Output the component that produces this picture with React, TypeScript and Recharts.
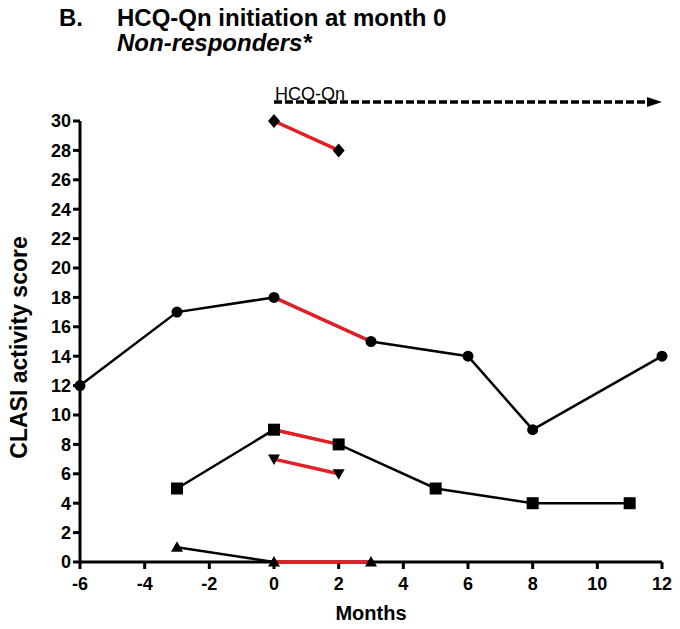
import React from 'react';
import { ComposedChart, Line, Scatter, XAxis, YAxis, ReferenceLine, Label } from 'recharts';

// ---- Data ----
const xTicks = [-6, -4, -2, 0, 2, 4, 6, 8, 10, 12];
const yTicks = [0, 2, 4, 6, 8, 10, 12, 14, 16, 18, 20, 22, 24, 26, 28, 30];

const circleMonths = [-6, -3, 0, 3, 6, 8, 12];
const circleScores = [12, 17, 18, 15, 14, 9, 14];
const circleRedEnd = 3;

const squareMonths = [-3, 0, 2, 5, 8, 11];
const squareScores = [5, 9, 8, 5, 4, 4];
const squareRedEnd = 2;

const diamondMonths = [0, 2];
const diamondScores = [30, 28];
const diamondRedEnd = 2;

const downTriMonths = [0, 2];
const downTriScores = [7, 6];
const downTriRedEnd = 2;

const upTriMonths = [-3, 0, 3];
const upTriScores = [1, 0, 0];
const upTriRedEnd = 3;

const treatmentStart = 0;
const treatmentEnd = 12;
const arrowLevel = 31.3;
const treatmentLabel = 'HCQ-Qn';

// ---- helpers ----
const toPoints = (months: number[], scores: number[]) =>
  months.map((x, i) => ({ x, y: scores[i] }));
const redPart = (months: number[], scores: number[], end: number) =>
  toPoints(months, scores).filter((p) => p.x >= treatmentStart && p.x <= end);

const circleData = toPoints(circleMonths, circleScores);
const squareData = toPoints(squareMonths, squareScores);
const diamondData = toPoints(diamondMonths, diamondScores);
const downTriData = toPoints(downTriMonths, downTriScores);
const upTriData = toPoints(upTriMonths, upTriScores);

const circleRed = redPart(circleMonths, circleScores, circleRedEnd);
const squareRed = redPart(squareMonths, squareScores, squareRedEnd);
const diamondRed = redPart(diamondMonths, diamondScores, diamondRedEnd);
const downTriRed = redPart(downTriMonths, downTriScores, downTriRedEnd);
const upTriRed = redPart(upTriMonths, upTriScores, upTriRedEnd);

const FONT = '"Liberation Sans", Arial, Helvetica, sans-serif';
const RED = '#e31e24';

type Shape = 'circle' | 'square' | 'diamond' | 'up' | 'down';
const makeShape = (shape: Shape) => (props: any) => {
  const { cx, cy } = props;
  if (cx == null || cy == null) return <g />;
  switch (shape) {
    case 'circle':
      return <circle cx={cx} cy={cy} r={5.5} fill="#000" />;
    case 'square':
      return <rect x={cx - 6} y={cy - 6} width={12} height={12} fill="#000" />;
    case 'diamond':
      return <path d={`M${cx},${cy - 7}L${cx + 6},${cy}L${cx},${cy + 7}L${cx - 6},${cy}Z`} fill="#000" />;
    case 'up':
      return <path d={`M${cx},${cy - 6}L${cx + 6},${cy + 4.5}L${cx - 6},${cy + 4.5}Z`} fill="#000" />;
    case 'down':
    default:
      return <path d={`M${cx},${cy + 6}L${cx + 6},${cy - 4.5}L${cx - 6},${cy - 4.5}Z`} fill="#000" />;
  }
};

const ArrowShape = (props: any) => {
  const { x1, y1, x2, y2 } = props;
  if ([x1, y1, x2, y2].some((v) => v == null || isNaN(v))) return <g />;
  return (
    <g>
      <text x={x1 + 1} y={y1 - 2} fontFamily={FONT} fontSize={18} fill="#000">
        {treatmentLabel}
      </text>
      <line x1={x1} y1={y1} x2={x2 - 12} y2={y2} stroke="#000" strokeWidth={3.5} strokeDasharray="8 3" />
      <path d={`M${x2},${y2}L${x2 - 15},${y2 - 5}L${x2 - 15},${y2 + 5}Z`} fill="#000" />
    </g>
  );
};

const YLabel = (props: any) => {
  const vb = props.viewBox || { x: 20, y: 121, width: 60, height: 441 };
  const x = vb.x - 1.5;
  const y = vb.y + vb.height / 2 + 6;
  return (
    <text
      x={x}
      y={y}
      transform={`rotate(-90 ${x} ${y})`}
      textAnchor="middle"
      dominantBaseline="central"
      fontFamily={FONT}
      fontWeight="bold"
      fontSize={23}
      fill="#000"
    >
      CLASI activity score
    </text>
  );
};

const tickStyle = { fill: '#000', fontSize: 18, fontWeight: 'bold', fontFamily: FONT } as any;
const axisLineStyle = { stroke: '#000', strokeWidth: 3 };

const lineCommon = {
  dataKey: 'y',
  type: 'linear' as const,
  activeDot: false,
  isAnimationActive: false,
  legendType: 'none' as const,
};

const scatterCommon = {
  dataKey: 'y',
  isAnimationActive: false,
  legendType: 'none' as const,
  zIndex: 800,
};

export default function App() {
  return (
    <div style={{ position: 'absolute', left: 0, top: 0, width: 680, height: 629, background: '#fff' }}>
      <div
        style={{
          position: 'absolute',
          left: 59,
          top: 5,
          fontFamily: FONT,
          fontWeight: 'bold',
          fontSize: 24,
          lineHeight: '25px',
          color: '#000',
          whiteSpace: 'nowrap',
        }}
      >
        B.
      </div>
      <div
        style={{
          position: 'absolute',
          left: 117,
          top: 5,
          fontFamily: FONT,
          fontWeight: 'bold',
          fontSize: 24,
          lineHeight: '25px',
          color: '#000',
          whiteSpace: 'nowrap',
        }}
      >
        <div>HCQ-Qn initiation at month 0</div>
        <div style={{ fontStyle: 'italic' }}>Non-responders*</div>
      </div>
      <ComposedChart
        width={680}
        height={629}
        margin={{ top: 121, right: 18, bottom: 7, left: 20 }}
        style={{ position: 'absolute', left: 0, top: 0 }}
      >
        <XAxis
          type="number"
          dataKey="x"
          domain={[-6, 12]}
          ticks={xTicks}
          height={60}
          tick={tickStyle}
          tickLine={axisLineStyle}
          axisLine={axisLineStyle}
          tickSize={7}
          tickMargin={8}
          interval={0}
        >
          <Label
            value="Months"
            position="insideBottom"
            offset={2}
            style={{ fill: '#000', fontSize: 20, fontWeight: 'bold', fontFamily: FONT }}
          />
        </XAxis>
        <YAxis
          type="number"
          dataKey="y"
          domain={[0, 30]}
          ticks={yTicks}
          width={60}
          tick={tickStyle}
          tickLine={axisLineStyle}
          axisLine={axisLineStyle}
          tickSize={7}
          tickMargin={2}
          interval={0}
        >
          <Label content={<YLabel />} />
        </YAxis>

        <ReferenceLine
          segment={[
            { x: treatmentStart, y: arrowLevel },
            { x: treatmentEnd, y: arrowLevel },
          ]}
          ifOverflow="visible"
          shape={<ArrowShape />}
        />

        {/* black connecting lines */}
        <Line {...lineCommon} data={circleData} stroke="#000" strokeWidth={2.5} dot={false} />
        <Line {...lineCommon} data={squareData} stroke="#000" strokeWidth={2.5} dot={false} />
        <Line {...lineCommon} data={upTriData} stroke="#000" strokeWidth={2.5} dot={false} />

        {/* red treatment segments */}
        <Line {...lineCommon} data={circleRed} stroke={RED} strokeWidth={3.5} dot={false} zIndex={650} />
        <Line {...lineCommon} data={squareRed} stroke={RED} strokeWidth={3.5} dot={false} zIndex={650} />
        <Line {...lineCommon} data={diamondRed} stroke={RED} strokeWidth={3.5} dot={false} zIndex={650} />
        <Line {...lineCommon} data={downTriRed} stroke={RED} strokeWidth={3.5} dot={false} zIndex={650} />
        <Line {...lineCommon} data={upTriRed} stroke={RED} strokeWidth={3.5} dot={false} zIndex={650} />

        {/* markers */}
        <Scatter {...scatterCommon} data={circleData} shape={makeShape('circle')} />
        <Scatter {...scatterCommon} data={squareData} shape={makeShape('square')} />
        <Scatter {...scatterCommon} data={diamondData} shape={makeShape('diamond')} />
        <Scatter {...scatterCommon} data={downTriData} shape={makeShape('down')} />
        <Scatter {...scatterCommon} data={upTriData} shape={makeShape('up')} />
      </ComposedChart>
    </div>
  );
}
